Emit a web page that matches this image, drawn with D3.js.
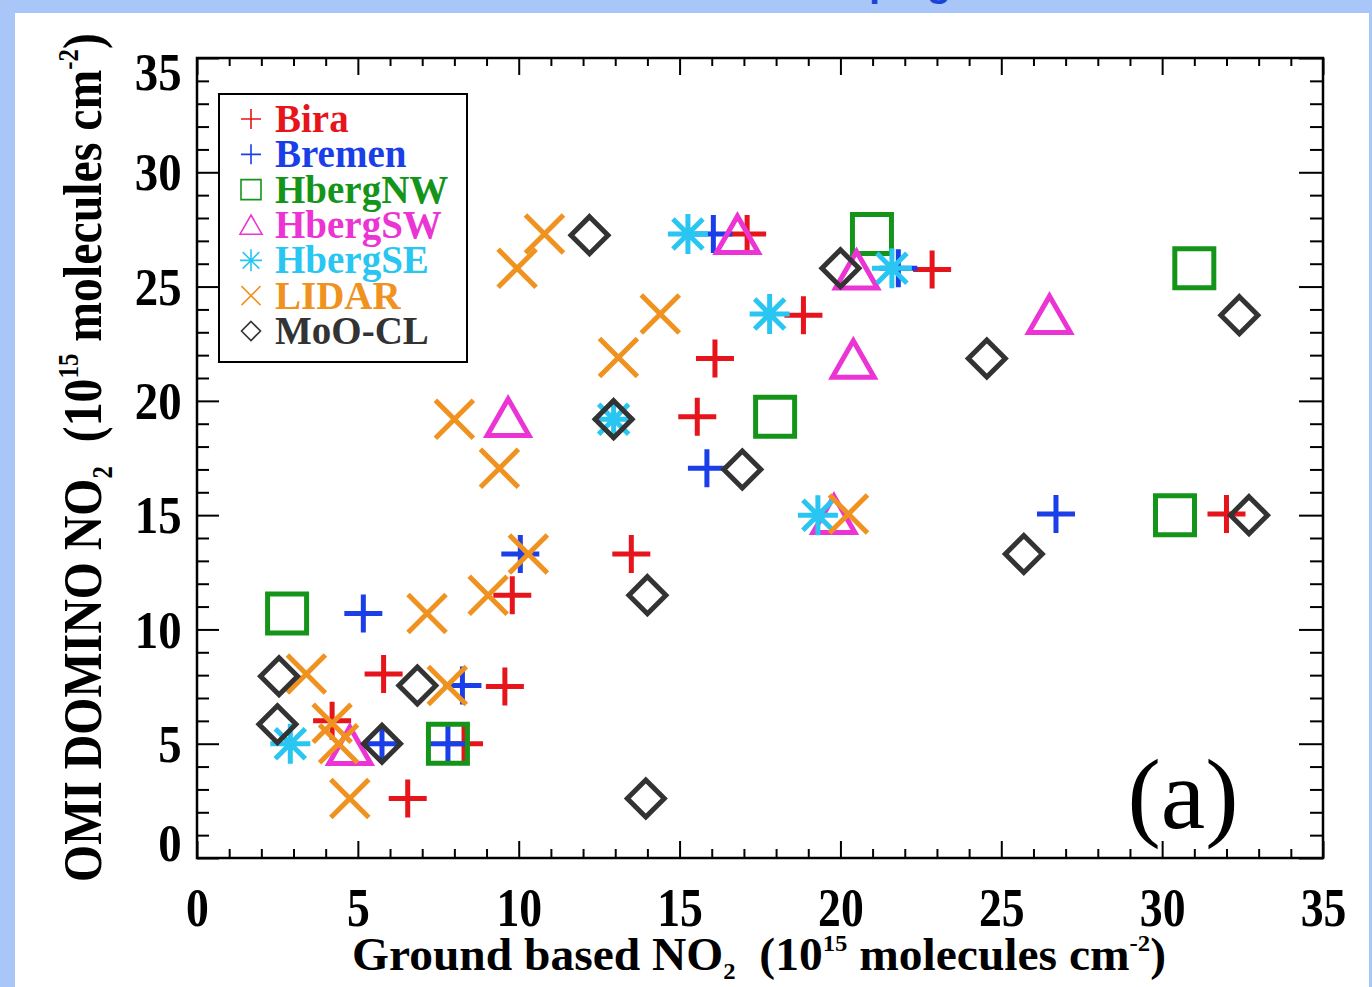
<!DOCTYPE html>
<html><head><meta charset="utf-8">
<script src="https://cdn.jsdelivr.net/npm/d3@7"></script>
<style>html,body{margin:0;padding:0;background:#a9c6f9;} svg{display:block;} text{white-space:pre;}</style>
</head><body>
<svg id="chart" width="1372" height="987"></svg>
<script>
// ---------- data ----------
const seriesNames  = ["Bira","Bremen","HbergNW","HbergSW","HbergSE","LIDAR","MoO-CL"];
const seriesColors = ["#e6141b","#1a3ee8","#14951a","#ec34d4","#28c6f0","#f0921f","#333333"];
const seriesShapes = ["plus","plus","square","triangle","asterisk","cross","diamond"];

const biraX    = [17.1, 22.85, 18.85, 16.1, 15.55, 13.5, 9.8, 5.8, 9.57, 8.3, 6.55, 4.2, 32.0];
const biraY    = [27.3, 25.75, 23.75, 21.85, 19.3, 13.3, 11.5, 8.05, 7.5, 5.0, 2.6, 6.0, 15.05];
const bremenX  = [16.05, 15.85, 26.7, 10.05, 5.17, 8.25, 7.8, 5.75, 21.8];
const bremenY  = [27.3, 17.05, 15.05, 13.3, 10.7, 7.55, 5.0, 5.0, 25.8];
const hbergNWX = [20.98, 31.0, 17.97, 30.4, 2.8, 7.8];
const hbergNWY = [27.3, 25.8, 19.3, 15.0, 10.7, 5.0];
const hbergSWX = [16.8, 20.5, 26.5, 20.4, 9.67, 19.8, 4.75];
const hbergSWY = [27.25, 25.7, 23.75, 21.8, 19.25, 15.0, 4.9];
const hbergSEX = [15.26, 21.6, 17.8, 12.95, 19.3, 2.9];
const hbergSEY = [27.3, 25.8, 23.8, 19.2, 15.0, 5.0];
const lidarX   = [10.8, 9.95, 14.4, 13.1, 8.0, 9.4, 10.3, 9.05, 7.15, 3.4, 7.78, 4.2, 4.4, 20.25, 4.75];
const lidarY   = [27.3, 25.8, 23.8, 21.9, 19.2, 17.05, 13.3, 11.5, 10.7, 8.05, 7.55, 5.9, 5.0, 15.05, 2.6];
const mooclX   = [12.2, 20.0, 32.4, 24.55, 12.95, 16.95, 32.7, 25.7, 14.0, 2.55, 6.85, 2.5, 5.75, 13.95];
const mooclY   = [27.25, 25.8, 23.75, 21.85, 19.2, 17.0, 15.0, 13.3, 11.5, 7.95, 7.55, 5.85, 5.0, 2.6];

const seriesX = [biraX, bremenX, hbergNWX, hbergSWX, hbergSEX, lidarX, mooclX];
const seriesY = [biraY, bremenY, hbergNWY, hbergSWY, hbergSEY, lidarY, mooclY];

const xMajorTicks = [0,5,10,15,20,25,30,35];
const yMajorTicks = [0,5,10,15,20,25,30,35];
const panelLabel = "(a)";
const xTitleParts = [["Ground based NO","n"],["2","sub"],["  (10","n"],["15","sup"],[" molecules cm","n"],["-2","sup"],[")","n"]];
const yTitleParts = [["OMI DOMINO NO","n"],["2","sub"],["  (10","n"],["15","sup"],[" molecules cm","n"],["-2","sup"],[")","n"]];

// ---------- layout ----------
const svg = d3.select("#chart");
const W = 1372, H = 987;
const L = 197, R = 1323, T = 58, B = 858;
const serif = "'Liberation Serif','Times New Roman',serif";

svg.append("rect").attr("width", W).attr("height", H).attr("fill", "#a9c6f9");
svg.append("rect").attr("x", 15).attr("y", 13).attr("width", 1354).attr("height", H - 13).attr("fill", "#ffffff");

// cut-off blue heading at top (only descenders visible, as in the reference)
svg.append("text").attr("x", 789).attr("y", -4)
  .attr("font-family", "'Liberation Sans',Arial,sans-serif").attr("font-weight", "bold")
  .attr("font-size", 40).attr("fill", "#1a44d8").text("campaign");

const x = d3.scaleLinear().domain([0, 35]).range([L, R]);
const y = d3.scaleLinear().domain([0, 35]).range([B, T]);

const minorVals = d3.range(0, 36, 1).filter(v => v % 5 !== 0);

function styleAxis(g) {
  g.select(".domain").remove();
  g.selectAll(".tick line").attr("stroke", "#000").attr("stroke-width", 2);
}

// left axis (majors with labels)
const gL = svg.append("g").attr("transform", `translate(${L},0)`)
  .call(d3.axisLeft(y).tickValues(yMajorTicks).tickSize(-22).tickSizeOuter(0).tickPadding(16).tickFormat(d3.format("d")));
styleAxis(gL);
gL.selectAll(".tick text")
  .attr("font-family", serif).attr("font-weight", "bold").attr("font-size", 52).attr("fill", "#000")
  .attr("dy", "0.34em")
  .attr("y", d => d === 35 ? 14 : (d === 0 ? -15 : 0))
  .attr("transform", "translate(-1,0) scale(0.9,1)");
svg.append("g").attr("transform", `translate(${L},0)`)
  .call(d3.axisLeft(y).tickValues(minorVals).tickSize(-12).tickSizeOuter(0).tickFormat(""))
  .call(styleAxis);

// right axis
svg.append("g").attr("transform", `translate(${R},0)`)
  .call(d3.axisRight(y).tickValues(yMajorTicks).tickSize(-24).tickSizeOuter(0).tickFormat(""))
  .call(styleAxis);
svg.append("g").attr("transform", `translate(${R},0)`)
  .call(d3.axisRight(y).tickValues(minorVals).tickSize(-13).tickSizeOuter(0).tickFormat(""))
  .call(styleAxis);

// bottom axis
const gB = svg.append("g").attr("transform", `translate(0,${B})`)
  .call(d3.axisBottom(x).tickValues(xMajorTicks).tickSize(-17).tickSizeOuter(0).tickPadding(29).tickFormat(d3.format("d")));
styleAxis(gB);
gB.selectAll(".tick text")
  .attr("font-family", serif).attr("font-weight", "bold").attr("font-size", 55).attr("fill", "#000")
  .attr("transform", "scale(0.83,1)");
svg.append("g").attr("transform", `translate(0,${B})`)
  .call(d3.axisBottom(x).tickValues(minorVals).tickSize(-9).tickSizeOuter(0).tickFormat(""))
  .call(styleAxis);

// top axis
svg.append("g").attr("transform", `translate(0,${T})`)
  .call(d3.axisTop(x).tickValues(xMajorTicks).tickSize(-17).tickSizeOuter(0).tickFormat(""))
  .call(styleAxis);
svg.append("g").attr("transform", `translate(0,${T})`)
  .call(d3.axisTop(x).tickValues(minorVals).tickSize(-8).tickSizeOuter(0).tickFormat(""))
  .call(styleAxis);

// frame
svg.append("rect").attr("x", L).attr("y", T).attr("width", R - L).attr("height", B - T)
  .attr("fill", "none").attr("stroke", "#000").attr("stroke-width", 2.5);

// ---------- symbols ----------
function symbolPath(shape, h) {
  switch (shape) {
    case "plus": return `M${-h},0H${h}M0,${-h}V${h}`;
    case "cross": return `M${-h},${-h}L${h},${h}M${-h},${h}L${h},${-h}`;
    case "square": return `M${-h},${-h}H${h}V${h}H${-h}Z`;
    case "diamond": return `M0,${-h}L${h},0L0,${h}L${-h},0Z`;
    case "triangle": return `M0,${-h}L${h*1.1},${h*0.92}L${-h*1.1},${h*0.92}Z`;
    case "asterisk": {
      const d = h * 0.75;
      return `M${-h},0H${h}M0,${-h}V${h}M${-d},${-d}L${d},${d}M${-d},${d}L${d},${-d}`;
    }
  }
}
const markerHalf = {plus: 19, cross: 19, square: 19.5, diamond: 18.5, triangle: 19, asterisk: 20};
const legendHalf = {plus: 10, cross: 9.5, square: 10, diamond: 9.5, triangle: 10, asterisk: 11};

const gPts = svg.append("g");
seriesNames.forEach((name, i) => {
  const pts = seriesX[i].map((v, j) => ({x: v, y: seriesY[i][j]}));
  gPts.append("g").selectAll("path").data(pts).join("path")
    .attr("transform", d => `translate(${x(d.x)},${y(d.y)})`)
    .attr("d", symbolPath(seriesShapes[i], markerHalf[seriesShapes[i]]))
    .attr("fill", "none").attr("stroke", seriesColors[i]).attr("stroke-width", 5)
    .attr("stroke-linecap", "butt").attr("stroke-linejoin", "miter");
});

// ---------- legend ----------
const lg = svg.append("g");
lg.append("rect").attr("x", 219).attr("y", 94).attr("width", 248).attr("height", 268)
  .attr("fill", "#fff").attr("stroke", "#000").attr("stroke-width", 2);
const rowY = d3.scaleLinear().domain([0, 6]).range([119, 331]);
seriesNames.forEach((name, i) => {
  lg.append("path").attr("transform", `translate(251,${rowY(i)})`)
    .attr("d", symbolPath(seriesShapes[i], legendHalf[seriesShapes[i]]))
    .attr("fill", "none").attr("stroke", seriesColors[i]).attr("stroke-width", 1.6);
  lg.append("text").attr("x", 275).attr("y", rowY(i) + 13)
    .attr("font-family", serif).attr("font-weight", "bold").attr("font-size", 39)
    .attr("fill", seriesColors[i]).text(name);
});

// ---------- panel label ----------
svg.append("text").attr("x", 1183).attr("y", 828).attr("text-anchor", "middle")
  .attr("font-family", serif).attr("font-size", 100).attr("fill", "#000").text(panelLabel);

// ---------- axis titles ----------
function richText(t, parts, fs) {
  let shift = 0;
  parts.forEach(([s, k]) => {
    const target = k === "sub" ? fs * 0.2 : (k === "sup" ? -fs * 0.42 : 0);
    t.append("tspan").attr("dy", target - shift).attr("font-size", k === "n" ? fs : fs * 0.52).text(s);
    shift = target;
  });
}
function fitWidth(t, target) {
  const w = t.node().getComputedTextLength();
  t.attr("transform", `scale(${target / w},1)`);
}

const xt = svg.append("g").attr("transform", `translate(352,970)`)
  .append("text").attr("font-family", serif).attr("font-weight", "bold").attr("fill", "#000");
richText(xt, xTitleParts, 46);
fitWidth(xt, 814);

const yt = svg.append("g").attr("transform", `translate(101,882) rotate(-90)`)
  .append("text").attr("font-family", serif).attr("font-weight", "bold").attr("fill", "#000");
richText(yt, yTitleParts, 55);
fitWidth(yt, 849);
</script>
</body></html>
